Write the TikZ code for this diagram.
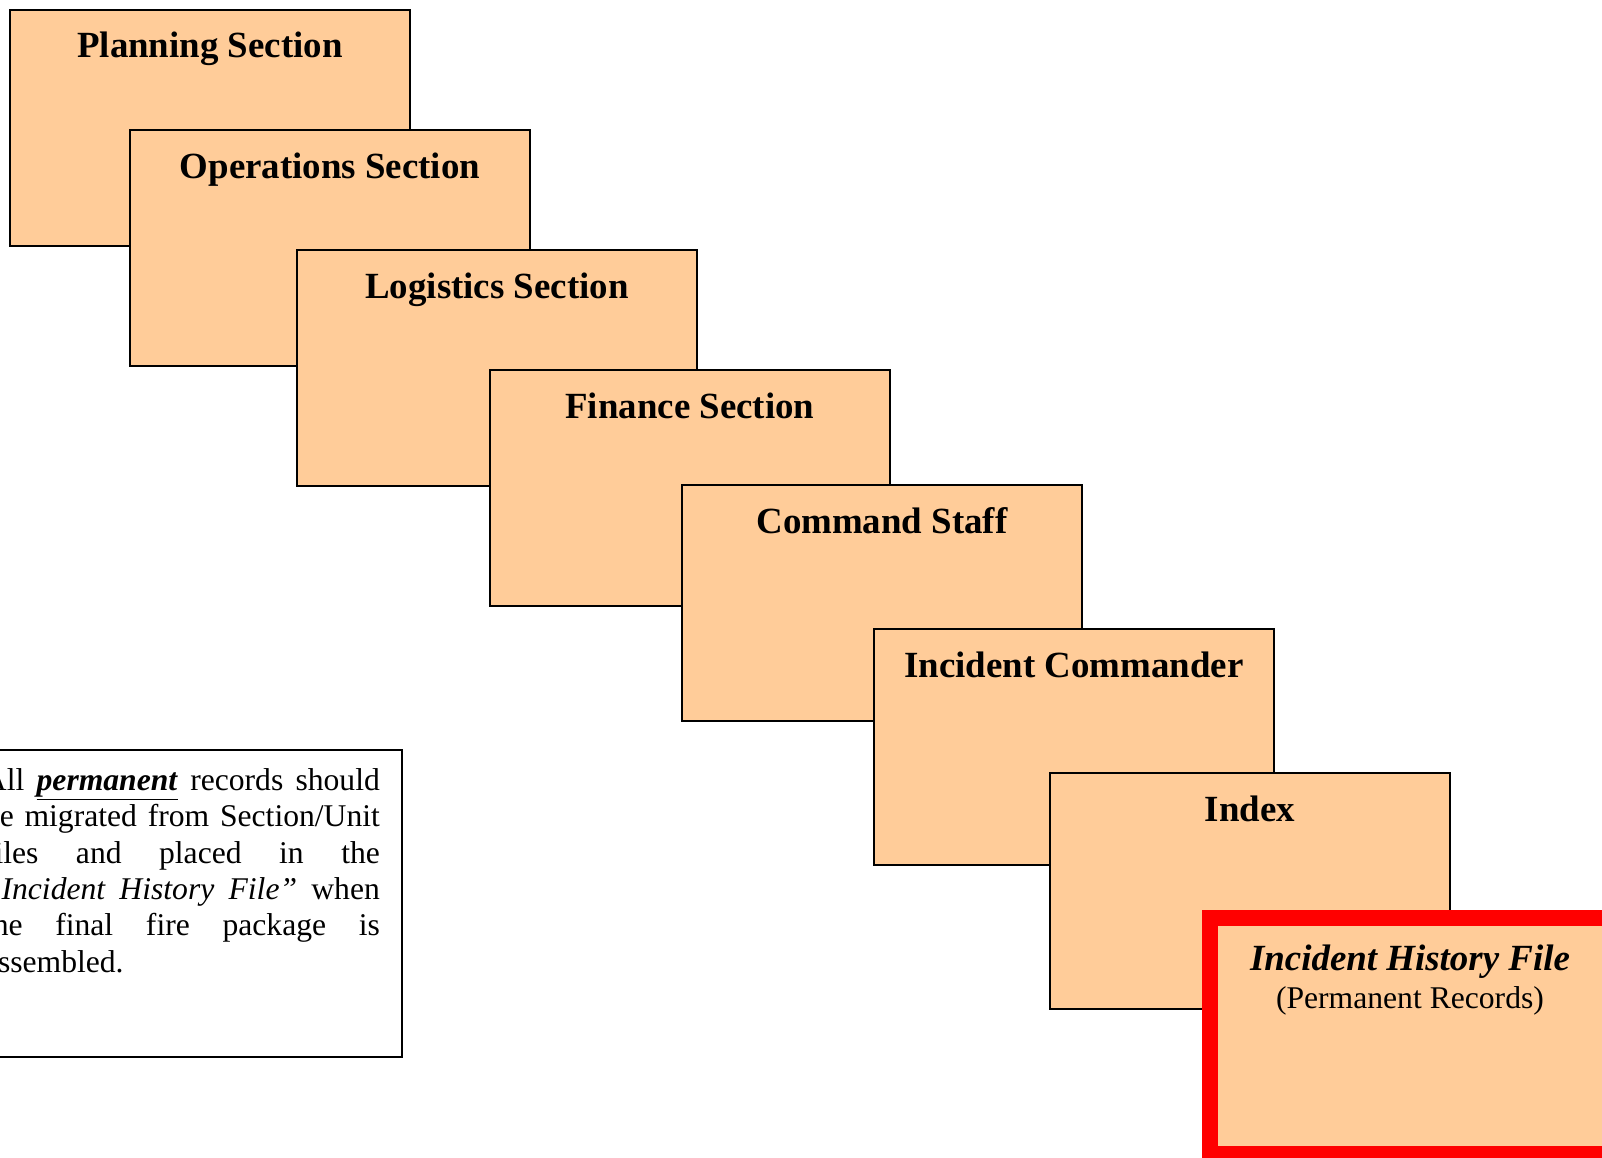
\documentclass[tikz,border=0pt]{standalone}
\usepackage{fontspec}
\setmainfont{Liberation Serif}
\usetikzlibrary{calc}
\definecolor{peach}{HTML}{FFCC99}

\begin{document}
\begin{tikzpicture}[x=0.02cm, y=-0.02cm,
        card/.style={draw=black, line width=1.1pt, fill=peach, minimum width=8cm, minimum height=4.72cm, anchor=north west, inner sep=0pt, outer sep=0pt},
        cardtitle/.style={anchor=base, font=\fontsize{21}{25}\selectfont\bfseries}]
        \useasboundingbox (0,0) rectangle (1602,1157);
        \node[card] (plan) at (10,10) {};
        \node[cardtitle] (planname) at ($(plan.north)+(0,47)$) {Planning Section};
        \node[card] (ops) at (130,130) {};
        \node[cardtitle] (opsname) at ($(ops.north)+(0,48)$) {Operations Section};
        \node[card] (logi) at (297,250) {};
        \node[cardtitle] (loginame) at ($(logi.north)+(0,48)$) {Logistics Section};
        \node[card] (fin) at (490,370) {};
        \node[cardtitle] (finname) at ($(fin.north)+(0,48)$) {Finance Section};
        \node[card] (cmd) at (682,485) {};
        \node[cardtitle] (cmdname) at ($(cmd.north)+(0,48)$) {Command Staff};
        \node[card] (ic) at (874,629) {};
        \node[cardtitle] (icname) at ($(ic.north)+(0,48)$) {Incident Commander};
        \node[card] (idx) at (1050,773) {};
        \node[cardtitle] (idxname) at ($(idx.north)+(0,48)$) {Index};
        \node[card, draw=red, line width=9pt] (hist) at (1210,918) {};
        \node[cardtitle, font=\fontsize{21}{25}\selectfont\bfseries\itshape] (histname) at ($(hist.north)+(0,52)$) {Incident History File};
        \node[anchor=base, font=\fontsize{18}{21}\selectfont] (histsub) at ($(hist.north)+(0,90)$) {(Permanent Records)};
        % note on the left
        \node[draw=black, line width=1.1pt, anchor=north west, inner xsep=0.44cm, inner ysep=0.37cm, outer sep=0pt] (note) at (-38,750)
            {\parbox[t][5.4cm][t]{7.92cm}{\fontsize{18}{20.7}\selectfont\tolerance=10000\hbadness=10000
            All \underline{\textbf{\textit{permanent}}} records should\linebreak
            be migrated from Section/Unit\linebreak
            files and placed in the\linebreak
            \textit{``Incident History File''} when\linebreak
            the final fire package is\linebreak
            assembled.}};
\end{tikzpicture}
\end{document}
